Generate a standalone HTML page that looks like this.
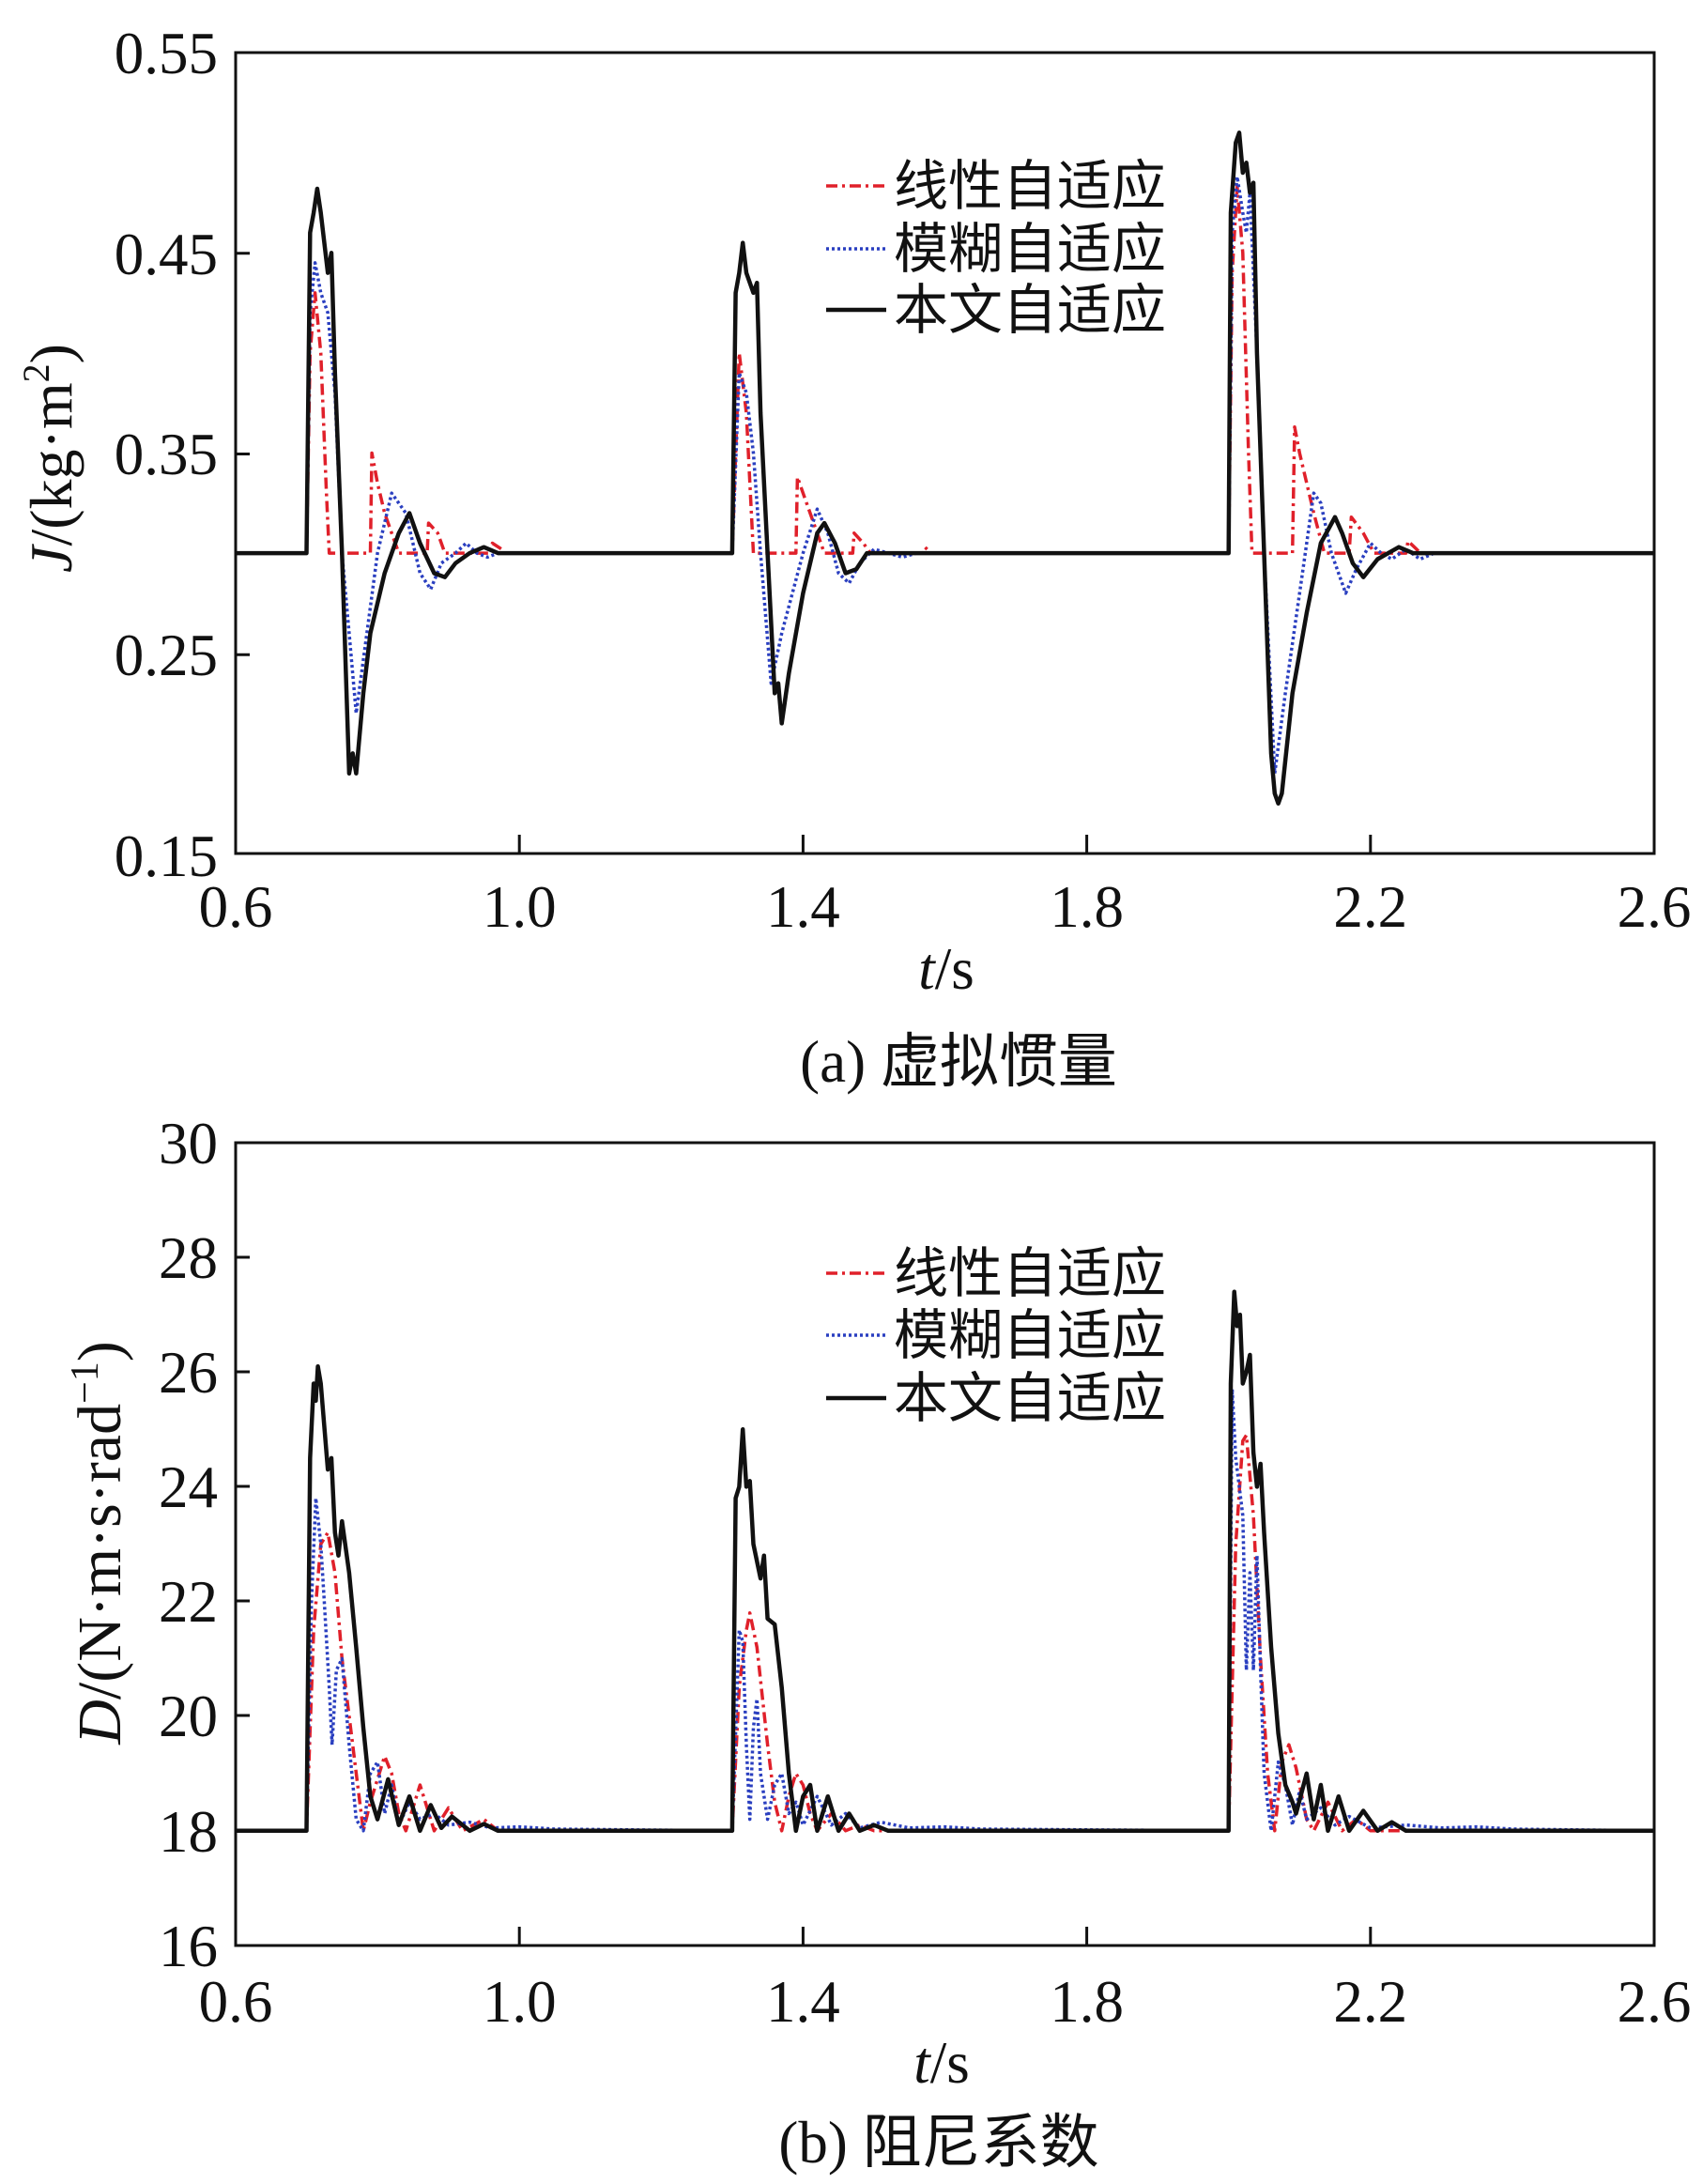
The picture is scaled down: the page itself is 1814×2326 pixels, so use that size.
<!DOCTYPE html>
<html><head><meta charset="utf-8"><style>
html,body{margin:0;padding:0;background:#fff;}
svg{display:block;}
text{font-family:"Liberation Serif","Noto Serif CJK SC",serif;fill:#111;}
.cj{font-family:"Liberation Serif","Noto Sans CJK SC",serif;}
</style></head><body>
<svg id="s" width="1814" height="2326" viewBox="0 0 1814 2326" xmlns="http://www.w3.org/2000/svg">
<g id="g"></g>
<rect x="251" y="56" width="1511" height="853" fill="none" stroke="#111" stroke-width="3"/>
<rect x="251" y="1217" width="1511" height="855" fill="none" stroke="#111" stroke-width="3"/>
<g stroke="#111" stroke-width="3">
<line x1="553.2" y1="909" x2="553.2" y2="889"/><line x1="855.4" y1="909" x2="855.4" y2="889"/><line x1="1157.6" y1="909" x2="1157.6" y2="889"/><line x1="1459.8" y1="909" x2="1459.8" y2="889"/>
<line x1="251" y1="269.75" x2="266" y2="269.75"/><line x1="251" y1="483.5" x2="266" y2="483.5"/><line x1="251" y1="697.25" x2="266" y2="697.25"/>
<line x1="553.2" y1="2072" x2="553.2" y2="2052"/><line x1="855.4" y1="2072" x2="855.4" y2="2052"/><line x1="1157.6" y1="2072" x2="1157.6" y2="2052"/><line x1="1459.8" y1="2072" x2="1459.8" y2="2052"/>
<line x1="251" y1="1339" x2="266" y2="1339"/><line x1="251" y1="1461" x2="266" y2="1461"/><line x1="251" y1="1583" x2="266" y2="1583"/><line x1="251" y1="1705" x2="266" y2="1705"/><line x1="251" y1="1827" x2="266" y2="1827"/><line x1="251" y1="1950" x2="266" y2="1950"/>
</g>
<g font-size="63" text-anchor="end">
<text x="232" y="78">0.55</text><text x="232" y="292">0.45</text><text x="232" y="505">0.35</text><text x="232" y="719">0.25</text><text x="232" y="933">0.15</text>
<text x="232" y="1239">30</text><text x="232" y="1361">28</text><text x="232" y="1483">26</text><text x="232" y="1605">24</text><text x="232" y="1727">22</text><text x="232" y="1849">20</text><text x="232" y="1972">18</text><text x="232" y="2094">16</text>
</g>
<g font-size="63" text-anchor="middle">
<text x="251" y="987">0.6</text><text x="553.2" y="987">1.0</text><text x="855.4" y="987">1.4</text><text x="1157.6" y="987">1.8</text><text x="1459.8" y="987">2.2</text><text x="1762" y="987">2.6</text>
<text x="251" y="2153">0.6</text><text x="553.2" y="2153">1.0</text><text x="855.4" y="2153">1.4</text><text x="1157.6" y="2153">1.8</text><text x="1459.8" y="2153">2.2</text><text x="1762" y="2153">2.6</text>
<text x="1008" y="1053"><tspan font-style="italic">t</tspan>/s</text>
<text x="1003" y="2218"><tspan font-style="italic">t</tspan>/s</text>
<text x="1021" y="1152" class="cj">(a) 虚拟惯量</text>
<text x="1000" y="2303" class="cj">(b) 阻尼系数</text>
</g>
<text font-size="64" text-anchor="middle" transform="translate(76,488) rotate(-90)"><tspan font-style="italic">J</tspan>/(kg·m<tspan font-size="40" dy="-24">2</tspan><tspan dy="24">)</tspan></text>
<text font-size="66" text-anchor="middle" transform="translate(128,1643) rotate(-90)"><tspan font-style="italic">D</tspan>/(N·m·s·rad<tspan font-size="42" dy="-24">−1</tspan><tspan dy="24">)</tspan></text>
<g font-size="58">
<line x1="880" y1="198" x2="944" y2="198" stroke="#e0202a" stroke-width="3.5" stroke-dasharray="12,5,3,5"/>
<line x1="880" y1="265" x2="944" y2="265" stroke="#2a3fc0" stroke-width="3.5" stroke-dasharray="3,3"/>
<line x1="880" y1="330" x2="944" y2="330" stroke="#111" stroke-width="4.5"/>
<text x="952" y="218" class="cj">线性自适应</text><text x="952" y="285" class="cj">模糊自适应</text><text x="952" y="350" class="cj">本文自适应</text>
<line x1="880" y1="1356" x2="944" y2="1356" stroke="#e0202a" stroke-width="3.5" stroke-dasharray="12,5,3,5"/>
<line x1="880" y1="1422" x2="944" y2="1422" stroke="#2a3fc0" stroke-width="3.5" stroke-dasharray="3,3"/>
<line x1="880" y1="1489" x2="944" y2="1489" stroke="#111" stroke-width="4.5"/>
<text x="952" y="1376" class="cj">线性自适应</text><text x="952" y="1442" class="cj">模糊自适应</text><text x="952" y="1509" class="cj">本文自适应</text>
</g>
</svg>
<script>
var X=function(t){return 251+(t-0.6)*755.5;};
var YA=function(v){return 56+(0.55-v)*2132.5;};
var YB=function(v){return 1217+(30-v)*61.07;};
var J={
r:[[0.70,.30],[0.705,.40],[0.712,.43],[0.72,.40],[0.728,.33],[0.732,.30],[0.79,.30],[0.792,.35],[0.80,.335],[0.81,.32],[0.82,.31],[0.83,.30],[0.87,.30],[0.872,.315],[0.885,.31],[0.895,.30],[0.96,.30],[0.962,.305],[0.975,.302],[0.98,.30],
[1.30,.30],[1.31,.40],[1.32,.37],[1.33,.30],[1.39,.30],[1.392,.338],[1.40,.33],[1.42,.31],[1.43,.30],[1.47,.30],[1.472,.31],[1.485,.305],[1.495,.30],[1.57,.30],[1.572,.303],[1.58,.30],
[2.00,.30],[2.005,.44],[2.012,.483],[2.02,.45],[2.028,.35],[2.033,.30],[2.09,.30],[2.093,.363],[2.10,.35],[2.12,.32],[2.135,.30],[2.17,.30],[2.173,.318],[2.19,.31],[2.205,.30],[2.25,.30],[2.253,.306],[2.265,.302],[2.27,.30]],
b:[[0.70,.30],[0.705,.42],[0.712,.445],[0.72,.43],[0.73,.42],[0.74,.38],[0.75,.30],[0.76,.26],[0.77,.22],[0.785,.26],[0.80,.30],[0.82,.33],[0.84,.32],[0.86,.29],[0.875,.282],[0.89,.295],[0.91,.30],[0.925,.305],[0.94,.30],[0.955,.298],[0.97,.30],
[1.30,.30],[1.31,.39],[1.32,.38],[1.33,.35],[1.34,.30],[1.355,.235],[1.37,.26],[1.40,.30],[1.42,.322],[1.435,.31],[1.45,.29],[1.465,.285],[1.48,.295],[1.50,.302],[1.52,.30],[1.54,.298],[1.56,.30],
[2.00,.30],[2.005,.46],[2.012,.488],[2.02,.47],[2.025,.46],[2.03,.48],[2.04,.40],[2.05,.30],[2.065,.19],[2.08,.23],[2.10,.28],[2.12,.33],[2.13,.325],[2.145,.30],[2.165,.28],[2.18,.292],[2.20,.305],[2.215,.30],[2.23,.297],[2.25,.302],[2.27,.297],[2.29,.30]],
k:[[0.70,.30],[0.705,.46],[0.71,.47],[0.715,.482],[0.72,.47],[0.73,.44],[0.735,.45],[0.74,.39],[0.75,.30],[0.76,.19],[0.765,.20],[0.77,.19],[0.78,.23],[0.79,.26],[0.81,.29],[0.83,.31],[0.845,.32],[0.86,.305],[0.88,.29],[0.895,.288],[0.91,.295],[0.93,.30],[0.95,.303],[0.97,.30],
[1.30,.30],[1.305,.43],[1.31,.44],[1.315,.455],[1.32,.44],[1.33,.43],[1.335,.435],[1.34,.37],[1.35,.30],[1.36,.23],[1.365,.235],[1.37,.215],[1.38,.24],[1.40,.28],[1.42,.31],[1.43,.315],[1.445,.305],[1.46,.29],[1.475,.292],[1.49,.30],[1.51,.30],
[2.00,.30],[2.003,.47],[2.01,.505],[2.015,.51],[2.02,.49],[2.025,.495],[2.03,.48],[2.035,.485],[2.04,.40],[2.05,.30],[2.06,.20],[2.065,.18],[2.07,.175],[2.075,.18],[2.09,.23],[2.11,.27],[2.13,.305],[2.15,.318],[2.16,.31],[2.175,.295],[2.19,.288],[2.21,.297],[2.24,.303],[2.26,.30],[2.29,.30]]};
var D={
r:[[0.70,18],[0.71,21.5],[0.72,23.0],[0.73,23.2],[0.74,22.5],[0.75,21.0],[0.76,20],[0.78,18.0],[0.79,18.5],[0.81,19.3],[0.82,19.0],[0.83,18.3],[0.84,18.0],[0.86,18.8],[0.88,18.0],[0.90,18.4],[0.92,18.0],[0.95,18.2],[0.97,18.0],
[1.30,18],[1.31,20.5],[1.32,21.5],[1.325,21.8],[1.335,21.2],[1.35,19.5],[1.36,18.5],[1.37,18.0],[1.38,18.6],[1.39,19.0],[1.40,18.8],[1.41,18.3],[1.42,18.0],[1.44,18.3],[1.46,18.0],[1.48,18.1],[1.50,18.0],
[2.00,18],[2.01,23],[2.02,24.8],[2.025,24.9],[2.035,23.5],[2.045,21.0],[2.055,19.0],[2.065,18.0],[2.075,19.2],[2.085,19.5],[2.095,19.1],[2.11,18.2],[2.12,18.0],[2.14,18.5],[2.16,18.0],[2.18,18.2],[2.20,18.0]],
b:[[0.70,18],[0.707,22],[0.713,23.8],[0.72,23.0],[0.725,22.0],[0.732,20.5],[0.736,19.5],[0.742,20.8],[0.75,21.0],[0.76,19.5],[0.77,18.2],[0.78,18.0],[0.79,19.0],[0.80,19.2],[0.81,18.3],[0.82,18.8],[0.83,18.1],[0.845,18.5],[0.86,18.2],[0.88,18.3],[0.90,18.1],[0.93,18.15],[0.96,18.05],[1.0,18.07],[1.05,18.03],
[1.30,18],[1.31,21.5],[1.315,21.3],[1.32,19.5],[1.325,18.2],[1.33,19.8],[1.335,20.3],[1.34,19],[1.35,18.2],[1.36,18.8],[1.37,19.0],[1.38,18.3],[1.39,18.5],[1.40,18.1],[1.42,18.6],[1.44,18.1],[1.46,18.3],[1.48,18.05],[1.51,18.15],[1.55,18.05],[1.60,18.07],[1.65,18.03],
[2.00,18],[2.005,25.7],[2.01,24.5],[2.02,23.5],[2.025,20.8],[2.03,22.5],[2.035,20.8],[2.04,22.8],[2.045,20.8],[2.05,19],[2.06,18],[2.07,19.2],[2.08,18.8],[2.09,18.1],[2.10,18.7],[2.11,18.2],[2.13,18.4],[2.15,18.1],[2.17,18.25],[2.20,18.05],[2.25,18.1],[2.30,18.05],[2.35,18.07],[2.40,18.03]],
k:[[0.70,18],[0.705,24.5],[0.71,25.8],[0.713,25.5],[0.716,26.1],[0.72,25.8],[0.73,24.3],[0.735,24.5],[0.74,23.2],[0.745,22.8],[0.75,23.4],[0.76,22.5],[0.77,21.2],[0.78,19.8],[0.79,18.6],[0.80,18.2],[0.815,18.9],[0.83,18.1],[0.845,18.6],[0.86,18.0],[0.875,18.45],[0.89,18.05],[0.905,18.25],[0.93,18.0],[0.95,18.12],[0.97,18.0],
[1.30,18],[1.305,23.8],[1.31,24.0],[1.315,25.0],[1.32,24.0],[1.325,24.1],[1.33,23.0],[1.34,22.4],[1.345,22.8],[1.35,21.7],[1.36,21.6],[1.37,20.5],[1.38,19.0],[1.39,18.0],[1.40,18.6],[1.41,18.8],[1.42,18.0],[1.435,18.6],[1.45,18.0],[1.465,18.3],[1.48,18.0],[1.50,18.1],[1.52,18.0],
[2.00,18],[2.003,25.8],[2.008,27.4],[2.012,26.8],[2.016,27.0],[2.02,25.8],[2.025,26.0],[2.03,26.3],[2.035,24.6],[2.04,24.0],[2.045,24.4],[2.05,23.2],[2.06,21.2],[2.07,19.7],[2.08,18.8],[2.09,18.5],[2.095,18.3],[2.11,19.0],[2.12,18.2],[2.13,18.8],[2.14,18.0],[2.155,18.6],[2.17,18.0],[2.19,18.35],[2.21,18.0],[2.23,18.15],[2.25,18.0]]};
var st={r:'stroke="#e0202a" stroke-width="3.5" stroke-dasharray="12,5,3,5"',b:'stroke="#2a3fc0" stroke-width="3.5" stroke-dasharray="3,3"',k:'stroke="#111" stroke-width="4.5"'};
var h='';
function draw(data,Y,base){['r','b','k'].forEach(function(s){var p=[[0.6,base]].concat(data[s]).concat([[2.6,base]]);
var d=p.map(function(q,i){return (i?'L':'M')+X(q[0]).toFixed(1)+' '+Y(q[1]).toFixed(1);}).join('');
h+='<path d="'+d+'" fill="none" stroke-linejoin="round" '+st[s]+'/>';});}
draw(J,YA,0.30);draw(D,YB,18);
document.getElementById('g').innerHTML=h;
</script>
</body></html>
